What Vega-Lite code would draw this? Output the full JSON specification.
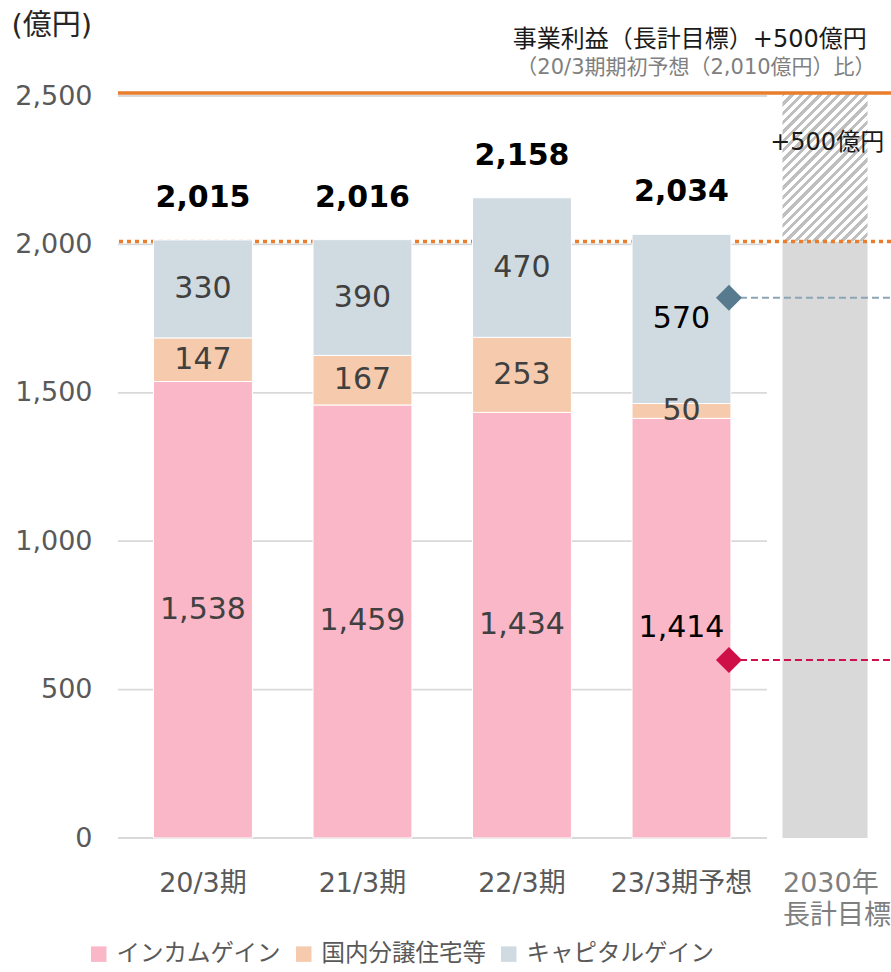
{
  "$schema": "https://vega.github.io/schema/vega-lite/v6.json",
  "width": 773,
  "height": 742,
  "autosize": {"type": "none"},
  "padding": {"left": 118, "top": 96, "right": 0, "bottom": 134},
  "background": "white",
  "config": {"view": {"stroke": null}, "font": "DejaVu Sans, Noto Sans CJK JP"},
  "datasets": {
    "segments": [
      {"period": "20/3期", "series": "インカムゲイン", "ord": 1, "value": 1538},
      {"period": "20/3期", "series": "国内分譲住宅等", "ord": 2, "value": 147},
      {"period": "20/3期", "series": "キャピタルゲイン", "ord": 3, "value": 330},
      {"period": "21/3期", "series": "インカムゲイン", "ord": 1, "value": 1459},
      {"period": "21/3期", "series": "国内分譲住宅等", "ord": 2, "value": 167},
      {"period": "21/3期", "series": "キャピタルゲイン", "ord": 3, "value": 390},
      {"period": "22/3期", "series": "インカムゲイン", "ord": 1, "value": 1434},
      {"period": "22/3期", "series": "国内分譲住宅等", "ord": 2, "value": 253},
      {"period": "22/3期", "series": "キャピタルゲイン", "ord": 3, "value": 470},
      {"period": "23/3期予想", "series": "インカムゲイン", "ord": 1, "value": 1414},
      {"period": "23/3期予想", "series": "国内分譲住宅等", "ord": 2, "value": 50},
      {"period": "23/3期予想", "series": "キャピタルゲイン", "ord": 3, "value": 570}
    ],
    "totals": [
      {"period": "20/3期", "total": 2015},
      {"period": "21/3期", "total": 2016},
      {"period": "22/3期", "total": 2158},
      {"period": "23/3期予想", "total": 2034}
    ],
    "target": [
      {"period": "2030年長計目標", "part": "base", "lo": 0, "hi": 2010},
      {"period": "2030年長計目標", "part": "plus", "lo": 2010, "hi": 2510}
    ],
    "grid": [{"v": 0}, {"v": 500}, {"v": 1000}, {"v": 1500}, {"v": 2000}, {"v": 2500}],
    "markers": [
      {"period": "23/3期予想", "kind": "capital", "value": 1820},
      {"period": "23/3期予想", "kind": "income", "value": 600}
    ],
    "one": [{}]
  },
  "layer": [
    {
      "data": {"name": "grid"},
      "mark": {"type": "rule", "color": "#D9D9D9", "strokeWidth": 1.8},
      "encoding": {
        "x": {"datum": "20/3期", "type": "nominal", "bandPosition": -0.36},
        "x2": {"datum": "23/3期予想", "bandPosition": 1.365},
        "y": {
          "field": "v", "type": "quantitative",
          "scale": {"domain": [0, 2500], "nice": false, "zero": true},
          "axis": {
            "values": [0, 500, 1000, 1500, 2000, 2500], "labelExpr": "format(datum.value, ',')", "grid": false, "domain": false,
            "ticks": false, "tickSize": 0, "labelPadding": 26, "labelFontSize": 27, "labelColor": "#595959",
            "labelFont": "DejaVu Sans", "title": "(億円)", "titleAngle": 0, "titleAlign": "left",
            "titleBaseline": "middle", "titleX": -107, "titleY": -71, "titleFontSize": 29,
            "titleFontWeight": "normal", "titleColor": "#262626", "titleFont": "DejaVu Sans, Noto Sans CJK JP"
          }
        }
      }
    },
    {
      "data": {"name": "target"},
      "transform": [{"filter": "datum.part === 'base'"}],
      "mark": {"type": "bar", "color": "#D9D9D9", "width": {"band": 0.86}, "xOffset": -16},
      "encoding": {
        "x": {"field": "period", "type": "nominal"},
        "y": {"field": "lo", "type": "quantitative"},
        "y2": {"field": "hi"}
      }
    },
    {
      "data": {"name": "target"},
      "transform": [{"filter": "datum.part === 'plus'"}],
      "mark": {
        "type": "bar", "width": {"band": 0.86}, "xOffset": -16,
        "color": {
          "gradient": "linear", "x1": 0, "y1": 0, "x2": 0.678, "y2": 1.184,
          "stops": [
            {"offset": 0, "color": "#BFBFBF"}, {"offset": 0.018, "color": "#BFBFBF"}, {"offset": 0.018, "color": "#FFFFFF"}, {"offset": 0.04, "color": "#FFFFFF"},
            {"offset": 0.04, "color": "#BFBFBF"}, {"offset": 0.058, "color": "#BFBFBF"}, {"offset": 0.058, "color": "#FFFFFF"}, {"offset": 0.08, "color": "#FFFFFF"},
            {"offset": 0.08, "color": "#BFBFBF"}, {"offset": 0.098, "color": "#BFBFBF"}, {"offset": 0.098, "color": "#FFFFFF"}, {"offset": 0.12, "color": "#FFFFFF"},
            {"offset": 0.12, "color": "#BFBFBF"}, {"offset": 0.138, "color": "#BFBFBF"}, {"offset": 0.138, "color": "#FFFFFF"}, {"offset": 0.16, "color": "#FFFFFF"},
            {"offset": 0.16, "color": "#BFBFBF"}, {"offset": 0.178, "color": "#BFBFBF"}, {"offset": 0.178, "color": "#FFFFFF"}, {"offset": 0.2, "color": "#FFFFFF"},
            {"offset": 0.2, "color": "#BFBFBF"}, {"offset": 0.218, "color": "#BFBFBF"}, {"offset": 0.218, "color": "#FFFFFF"}, {"offset": 0.24, "color": "#FFFFFF"},
            {"offset": 0.24, "color": "#BFBFBF"}, {"offset": 0.258, "color": "#BFBFBF"}, {"offset": 0.258, "color": "#FFFFFF"}, {"offset": 0.28, "color": "#FFFFFF"},
            {"offset": 0.28, "color": "#BFBFBF"}, {"offset": 0.298, "color": "#BFBFBF"}, {"offset": 0.298, "color": "#FFFFFF"}, {"offset": 0.32, "color": "#FFFFFF"},
            {"offset": 0.32, "color": "#BFBFBF"}, {"offset": 0.338, "color": "#BFBFBF"}, {"offset": 0.338, "color": "#FFFFFF"}, {"offset": 0.36, "color": "#FFFFFF"},
            {"offset": 0.36, "color": "#BFBFBF"}, {"offset": 0.378, "color": "#BFBFBF"}, {"offset": 0.378, "color": "#FFFFFF"}, {"offset": 0.4, "color": "#FFFFFF"},
            {"offset": 0.4, "color": "#BFBFBF"}, {"offset": 0.418, "color": "#BFBFBF"}, {"offset": 0.418, "color": "#FFFFFF"}, {"offset": 0.44, "color": "#FFFFFF"},
            {"offset": 0.44, "color": "#BFBFBF"}, {"offset": 0.458, "color": "#BFBFBF"}, {"offset": 0.458, "color": "#FFFFFF"}, {"offset": 0.48, "color": "#FFFFFF"},
            {"offset": 0.48, "color": "#BFBFBF"}, {"offset": 0.498, "color": "#BFBFBF"}, {"offset": 0.498, "color": "#FFFFFF"}, {"offset": 0.52, "color": "#FFFFFF"},
            {"offset": 0.52, "color": "#BFBFBF"}, {"offset": 0.538, "color": "#BFBFBF"}, {"offset": 0.538, "color": "#FFFFFF"}, {"offset": 0.56, "color": "#FFFFFF"},
            {"offset": 0.56, "color": "#BFBFBF"}, {"offset": 0.578, "color": "#BFBFBF"}, {"offset": 0.578, "color": "#FFFFFF"}, {"offset": 0.6, "color": "#FFFFFF"},
            {"offset": 0.6, "color": "#BFBFBF"}, {"offset": 0.618, "color": "#BFBFBF"}, {"offset": 0.618, "color": "#FFFFFF"}, {"offset": 0.64, "color": "#FFFFFF"},
            {"offset": 0.64, "color": "#BFBFBF"}, {"offset": 0.658, "color": "#BFBFBF"}, {"offset": 0.658, "color": "#FFFFFF"}, {"offset": 0.68, "color": "#FFFFFF"},
            {"offset": 0.68, "color": "#BFBFBF"}, {"offset": 0.698, "color": "#BFBFBF"}, {"offset": 0.698, "color": "#FFFFFF"}, {"offset": 0.72, "color": "#FFFFFF"},
            {"offset": 0.72, "color": "#BFBFBF"}, {"offset": 0.738, "color": "#BFBFBF"}, {"offset": 0.738, "color": "#FFFFFF"}, {"offset": 0.76, "color": "#FFFFFF"},
            {"offset": 0.76, "color": "#BFBFBF"}, {"offset": 0.778, "color": "#BFBFBF"}, {"offset": 0.778, "color": "#FFFFFF"}, {"offset": 0.8, "color": "#FFFFFF"},
            {"offset": 0.8, "color": "#BFBFBF"}, {"offset": 0.818, "color": "#BFBFBF"}, {"offset": 0.818, "color": "#FFFFFF"}, {"offset": 0.84, "color": "#FFFFFF"},
            {"offset": 0.84, "color": "#BFBFBF"}, {"offset": 0.858, "color": "#BFBFBF"}, {"offset": 0.858, "color": "#FFFFFF"}, {"offset": 0.88, "color": "#FFFFFF"},
            {"offset": 0.88, "color": "#BFBFBF"}, {"offset": 0.898, "color": "#BFBFBF"}, {"offset": 0.898, "color": "#FFFFFF"}, {"offset": 0.92, "color": "#FFFFFF"},
            {"offset": 0.92, "color": "#BFBFBF"}, {"offset": 0.938, "color": "#BFBFBF"}, {"offset": 0.938, "color": "#FFFFFF"}, {"offset": 0.96, "color": "#FFFFFF"},
            {"offset": 0.96, "color": "#BFBFBF"}, {"offset": 0.978, "color": "#BFBFBF"}, {"offset": 0.978, "color": "#FFFFFF"}, {"offset": 1, "color": "#FFFFFF"}
          ]
        }
      },
      "encoding": {
        "x": {"field": "period", "type": "nominal"},
        "y": {"field": "lo", "type": "quantitative"},
        "y2": {"field": "hi"}
      }
    },
    {
      "data": {"name": "one"},
      "mark": {"type": "rule", "color": "#E97D2E", "strokeWidth": 3.5, "strokeDash": [4, 4]},
      "encoding": {"y": {"datum": 2010, "type": "quantitative"}}
    },
    {
      "data": {"name": "segments"},
      "mark": {"type": "bar", "width": {"band": 1}, "stroke": "white", "strokeWidth": 1},
      "encoding": {
        "x": {
          "field": "period", "type": "nominal",
          "scale": {
            "domain": ["20/3期", "21/3期", "22/3期", "23/3期予想", "2030年長計目標"],
            "paddingInner": 0.38, "paddingOuter": 0.113, "align": 0.985
          },
          "axis": {
            "title": null, "domain": false, "ticks": false, "tickSize": 0, "labelPadding": 45,
            "labelFontSize": 27, "labelFont": "DejaVu Sans, Noto Sans CJK JP",
            "labelColor": {"condition": {"test": "datum.value === '2030年長計目標'", "value": "#7F7F7F"}, "value": "#595959"},
            "labelAlign": {"condition": {"test": "datum.value === '2030年長計目標'", "value": "left"}, "value": "center"},
            "labelOffset": {"condition": {"test": "datum.value === '2030年長計目標'", "value": -58}, "value": 0},
            "labelExpr": "datum.value === '2030年長計目標' ? ['2030年', '長計目標'] : datum.value",
            "labelLineHeight": 32, "labelAngle": 0, "labelLimit": 300, "labelOverlap": false
          }
        },
        "y": {"field": "value", "type": "quantitative", "stack": "zero"},
        "color": {
          "field": "series", "type": "nominal",
          "scale": {"domain": ["インカムゲイン", "国内分譲住宅等", "キャピタルゲイン"], "range": ["#F9B7C8", "#F6CAAC", "#CFDAE1"]},
          "legend": {
            "orient": "none", "legendX": -31, "legendY": 846, "direction": "horizontal", "title": null,
            "symbolType": "square", "symbolSize": 240, "symbolStrokeWidth": 0, "labelFontSize": 23.5,
            "labelColor": "#595959", "labelFont": "DejaVu Sans, Noto Sans CJK JP", "columnPadding": 11,
            "labelLimit": 400, "labelOffset": 6
          }
        },
        "order": {"field": "ord", "type": "quantitative"}
      }
    },
    {
      "data": {"name": "segments"},
      "mark": {"type": "text", "fontSize": 30, "baseline": "middle", "font": "DejaVu Sans"},
      "encoding": {
        "x": {"field": "period", "type": "nominal"},
        "y": {"field": "value", "type": "quantitative", "stack": "zero", "bandPosition": 0.5},
        "detail": {"field": "series"},
        "order": {"field": "ord", "type": "quantitative"},
        "text": {"field": "value", "type": "quantitative", "format": ","},
        "color": {
          "condition": {"test": "datum.period === '23/3期予想' && datum.series !== '国内分譲住宅等'", "value": "#000000"},
          "value": "#404040"
        }
      }
    },
    {
      "data": {"name": "totals"},
      "mark": {"type": "text", "fontSize": 30, "fontWeight": "bold", "baseline": "middle", "dy": -42, "color": "#000000", "font": "DejaVu Sans"},
      "encoding": {
        "x": {"field": "period", "type": "nominal"},
        "y": {"field": "total", "type": "quantitative"},
        "text": {"field": "total", "type": "quantitative", "format": ","}
      }
    },
    {
      "data": {"name": "one"},
      "mark": {"type": "rule", "color": "#E97D2E", "strokeWidth": 3.5},
      "encoding": {"y": {"datum": 2510, "type": "quantitative"}}
    },
    {
      "data": {"name": "markers"},
      "mark": {"type": "rule", "strokeWidth": 2, "strokeDash": [7, 4]},
      "encoding": {
        "x": {"field": "period", "type": "nominal", "bandPosition": 0.98},
        "x2": {"value": "width"},
        "y": {"field": "value", "type": "quantitative"},
        "color": {"condition": {"test": "datum.kind === 'capital'", "value": "#8CA5B5"}, "value": "#D0104C"}
      }
    },
    {
      "data": {"name": "markers"},
      "mark": {"type": "point", "shape": "diamond", "filled": true, "size": 676, "opacity": 1},
      "encoding": {
        "x": {"field": "period", "type": "nominal", "bandPosition": 0.98},
        "y": {"field": "value", "type": "quantitative"},
        "color": {"condition": {"test": "datum.kind === 'capital'", "value": "#587A8E"}, "value": "#CF0F48"}
      }
    },
    {
      "data": {"name": "one"},
      "mark": {"type": "text", "text": "事業利益（長計目標）+500億円", "align": "right", "baseline": "middle", "fontSize": 24, "color": "#1A1A1A"},
      "encoding": {
        "x": {"datum": "2030年長計目標", "type": "nominal", "bandPosition": 0.76},
        "y": {"datum": 2690, "type": "quantitative"}
      }
    },
    {
      "data": {"name": "one"},
      "mark": {"type": "text", "text": "（20/3期期初予想（2,010億円）比）", "align": "right", "baseline": "middle", "fontSize": 21, "color": "#808080"},
      "encoding": {
        "x": {"datum": "2030年長計目標", "type": "nominal", "bandPosition": 0.85},
        "y": {"datum": 2595, "type": "quantitative"}
      }
    },
    {
      "data": {"name": "one"},
      "mark": {"type": "text", "text": "+500億円", "align": "center", "baseline": "middle", "fontSize": 24, "color": "#1A1A1A"},
      "encoding": {
        "x": {"datum": "2030年長計目標", "type": "nominal", "bandPosition": 0.36},
        "y": {"datum": 2342, "type": "quantitative"}
      }
    }
  ]
}
